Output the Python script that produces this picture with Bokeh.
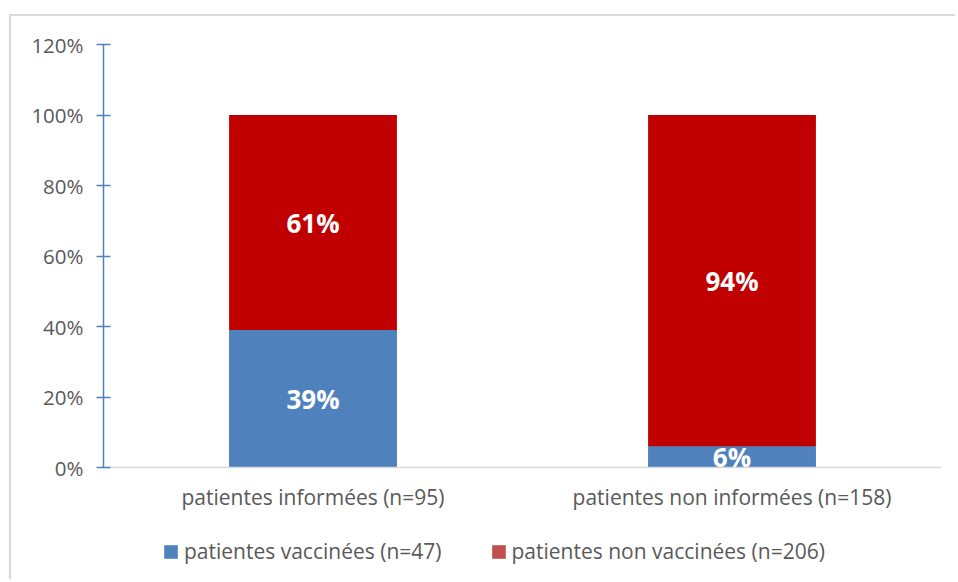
from bokeh.plotting import figure
from bokeh.models import (ColumnDataSource, FactorRange, Range1d, NumeralTickFormatter,
                          Legend, LegendItem, FixedTicker)
from bokeh.core.properties import value
from bokeh.embed import file_html
from bokeh.resources import INLINE

# ---- data ----
categories = ["patientes informées (n=95)", "patientes non informées (n=158)"]
series_labels = ["patientes vaccinées (n=47)", "patientes non vaccinées (n=206)"]
vaccinees = [0.39, 0.06]
non_vaccinees = [0.61, 0.94]
y_ticks = [0, 0.2, 0.4, 0.6, 0.8, 1.0, 1.2]

bar_colors = ["#4F81BD", "#C00000"]
legend_colors = ["#4F81BD", "#C0504D"]
TEXT = "#595959"
FONT = "Open Sans"

# ---- layout (pixels) ----
W, H = 946, 565
B_LEFT, B_TOP, B_RIGHT, B_BOTTOM = 92, 28, 16, 6
PX_PER_UNIT = 352.5           # vertical pixels for 100 %
frame_h = H - B_TOP - B_BOTTOM
y_top = max(y_ticks)
y_bottom = y_top - frame_h / PX_PER_UNIT   # extra room below 0 for labels/legend

src = ColumnDataSource(dict(
    cat=categories,
    vac=vaccinees,
    non=non_vaccinees,
    vac_mid=[v / 2 for v in vaccinees],
    non_mid=[v + n / 2 for v, n in zip(vaccinees, non_vaccinees)],
    vac_txt=[f"{round(v * 100)}%" for v in vaccinees],
    non_txt=[f"{round(n * 100)}%" for n in non_vaccinees],
))

p = figure(x_range=FactorRange(*categories), y_range=Range1d(y_bottom, y_top),
           width=W, height=H, output_backend="svg", toolbar_location=None,
           min_border_left=B_LEFT, min_border_right=B_RIGHT,
           min_border_top=B_TOP, min_border_bottom=B_BOTTOM)
p.styles = {"margin-left": "9px", "margin-top": "14px",
            "border-left": "2px solid #D9D9D9", "border-top": "2px solid #D9D9D9"}

# legend-swatch renderers (lighter red), fully covered by the bars drawn on top
leg_r = p.vbar_stack(["vac", "non"], x="cat", width=0.4, source=src,
                     fill_color=legend_colors, line_color=None)
p.vbar_stack(["vac", "non"], x="cat", width=0.4, source=src,
             fill_color=bar_colors, line_color=None)

for ycol, tcol in (("vac_mid", "vac_txt"), ("non_mid", "non_txt")):
    p.text(x="cat", y=ycol, text=tcol, source=src, text_align="center",
           text_baseline="middle", text_color="white", text_font_size="26px",
           text_font_style="bold", text_font=value(FONT))

legend = Legend(items=[LegendItem(label=series_labels[i], renderers=[leg_r[i]]) for i in range(2)],
                orientation="horizontal", location=(59, 10),
                border_line_color=None, background_fill_alpha=0,
                padding=0, margin=0, spacing=48, label_standoff=5,
                glyph_width=17, glyph_height=17,
                label_text_font=FONT, label_text_font_size="21px", label_text_color=TEXT)
p.add_layout(legend, "center")

# axes
p.xaxis.fixed_location = 0
p.xaxis.axis_line_color = "#D9D9D9"
p.xaxis.axis_line_width = 1.5
p.xaxis.major_tick_line_color = None
p.xaxis.minor_tick_line_color = None
p.xaxis.major_label_text_font = FONT
p.xaxis.major_label_text_font_size = "21px"
p.xaxis.major_label_text_color = TEXT
p.xaxis.major_label_standoff = 9

p.yaxis.bounds = (0, y_top)
p.yaxis.ticker = FixedTicker(ticks=y_ticks)
p.yaxis.formatter = NumeralTickFormatter(format="0%")
p.yaxis.axis_line_color = "#4F81BD"
p.yaxis.axis_line_width = 1.5
p.yaxis.major_tick_line_color = "#4F81BD"
p.yaxis.major_tick_line_width = 1.5
p.yaxis.major_tick_in = 7
p.yaxis.major_tick_out = 7
p.yaxis.minor_tick_line_color = None
p.yaxis.major_label_text_font = FONT
p.yaxis.major_label_text_font_size = "20.5px"
p.yaxis.major_label_text_color = TEXT
p.yaxis.major_label_standoff = 13

p.grid.visible = False
p.outline_line_color = None
p.background_fill_color = "white"
p.border_fill_color = "white"

open("out.html", "w").write(file_html(p, INLINE))
